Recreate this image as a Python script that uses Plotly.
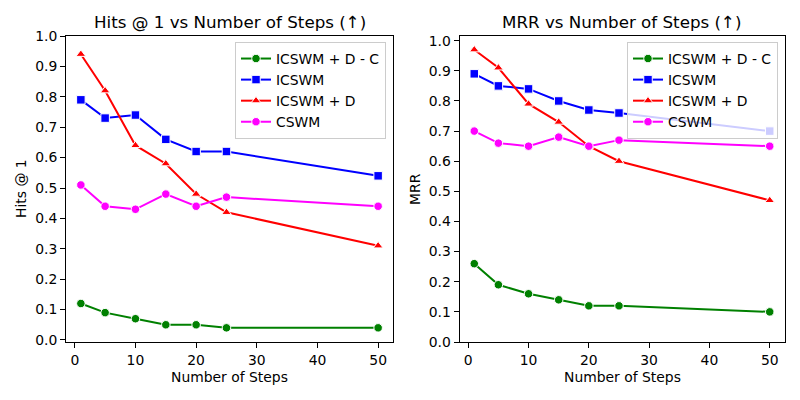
import plotly.graph_objects as go

steps = [1, 5, 10, 15, 20, 25, 50]
series_names = ["ICSWM + D - C", "ICSWM", "ICSWM + D", "CSWM"]

hits_icswm_d_c = [0.12, 0.09, 0.07, 0.05, 0.05, 0.04, 0.04]
hits_icswm = [0.79, 0.73, 0.74, 0.66, 0.62, 0.62, 0.54]
hits_icswm_d = [0.94, 0.82, 0.64, 0.58, 0.48, 0.42, 0.31]
hits_cswm = [0.51, 0.44, 0.43, 0.48, 0.44, 0.47, 0.44]

mrr_icswm_d_c = [0.26, 0.19, 0.16, 0.14, 0.12, 0.12, 0.10]
mrr_icswm = [0.89, 0.85, 0.84, 0.80, 0.77, 0.76, 0.70]
mrr_icswm_d = [0.97, 0.91, 0.79, 0.73, 0.65, 0.60, 0.47]
mrr_cswm = [0.70, 0.66, 0.65, 0.68, 0.65, 0.67, 0.65]

colors = ["green", "blue", "red", "magenta"]
symbols = ["circle", "square", "triangle-up", "circle"]
FONT = "DejaVu Sans"

fig = go.Figure()

def add(panel, vals_list):
    xa = "x" if panel == 1 else "x2"
    ya = "y" if panel == 1 else "y2"
    lg = "legend" if panel == 1 else "legend2"
    for name, vals, c, s in zip(series_names, vals_list, colors, symbols):
        fig.add_trace(go.Scatter(
            x=steps, y=vals, name=name, mode="lines+markers",
            line=dict(color=c, width=2),
            marker=dict(color=c, symbol=s, size=8.5, line=dict(color="white", width=1)),
            xaxis=xa, yaxis=ya, legend=lg,
        ))

add(1, [hits_icswm_d_c, hits_icswm, hits_icswm_d, hits_cswm])
add(2, [mrr_icswm_d_c, mrr_icswm, mrr_icswm_d, mrr_cswm])

axis_common = dict(
    showline=True, linecolor="black", linewidth=1, mirror=True,
    ticks="outside", ticklen=5, tickcolor="black", tickwidth=1,
    showgrid=False, zeroline=False, automargin=False,
    tickfont=dict(family=FONT, size=13.9, color="black"),
)

legend_common = dict(
    bgcolor="rgba(255,255,255,0.8)", bordercolor="#cccccc", borderwidth=1,
    font=dict(family=FONT, size=13.9, color="black"),
    xanchor="right", yanchor="top", tracegroupgap=0, itemwidth=30,
)

fig.update_layout(
    width=800, height=400,
    margin=dict(l=0, r=0, t=0, b=0),
    plot_bgcolor="white", paper_bgcolor="white",
    xaxis=dict(domain=[66/800, 393/800], range=[-1.45, 52.45], tickvals=[0, 10, 20, 30, 40, 50], anchor="y", **axis_common),
    yaxis=dict(domain=[(400-342)/400, (400-36)/400], range=[-0.0066, 1.0], tickvals=[i/10 for i in range(11)], tickformat=".1f", anchor="x", **axis_common),
    xaxis2=dict(domain=[459.5/800, 784.5/800], range=[-1.45, 52.45], tickvals=[0, 10, 20, 30, 40, 50], anchor="y2", **axis_common),
    yaxis2=dict(domain=[(400-342)/400, (400-36)/400], range=[0, 1.0156], tickvals=[i/10 for i in range(11)], tickformat=".1f", anchor="x2", **axis_common),
    legend=dict(x=386/800, y=(400-42)/400, **legend_common),
    legend2=dict(x=778/800, y=(400-42)/400, **legend_common),
    annotations=[
        dict(text="Hits @ 1 vs Number of Steps (↑)", x=229.5/800, y=(400-22)/400, xref="paper", yref="paper",
             showarrow=False, font=dict(family=FONT, size=16.7, color="black"), xanchor="center", yanchor="middle"),
        dict(text="MRR vs Number of Steps (↑)", x=622/800, y=(400-22)/400, xref="paper", yref="paper",
             showarrow=False, font=dict(family=FONT, size=16.7, color="black"), xanchor="center", yanchor="middle"),
        dict(text="Number of Steps", x=229.5/800, y=(400-377)/400, xref="paper", yref="paper",
             showarrow=False, font=dict(family=FONT, size=13.9, color="black"), xanchor="center", yanchor="middle"),
        dict(text="Number of Steps", x=622/800, y=(400-377)/400, xref="paper", yref="paper",
             showarrow=False, font=dict(family=FONT, size=13.9, color="black"), xanchor="center", yanchor="middle"),
        dict(text="Hits @ 1", x=21/800, y=(400-189)/400, xref="paper", yref="paper", textangle=-90,
             showarrow=False, font=dict(family=FONT, size=13.9, color="black"), xanchor="center", yanchor="middle"),
        dict(text="MRR", x=415/800, y=(400-189)/400, xref="paper", yref="paper", textangle=-90,
             showarrow=False, font=dict(family=FONT, size=13.9, color="black"), xanchor="center", yanchor="middle"),
    ],
)

fig.write_html("out.html", config={"displayModeBar": False},
               post_script="document.body.style.margin='0';document.body.style.overflow='hidden';")
